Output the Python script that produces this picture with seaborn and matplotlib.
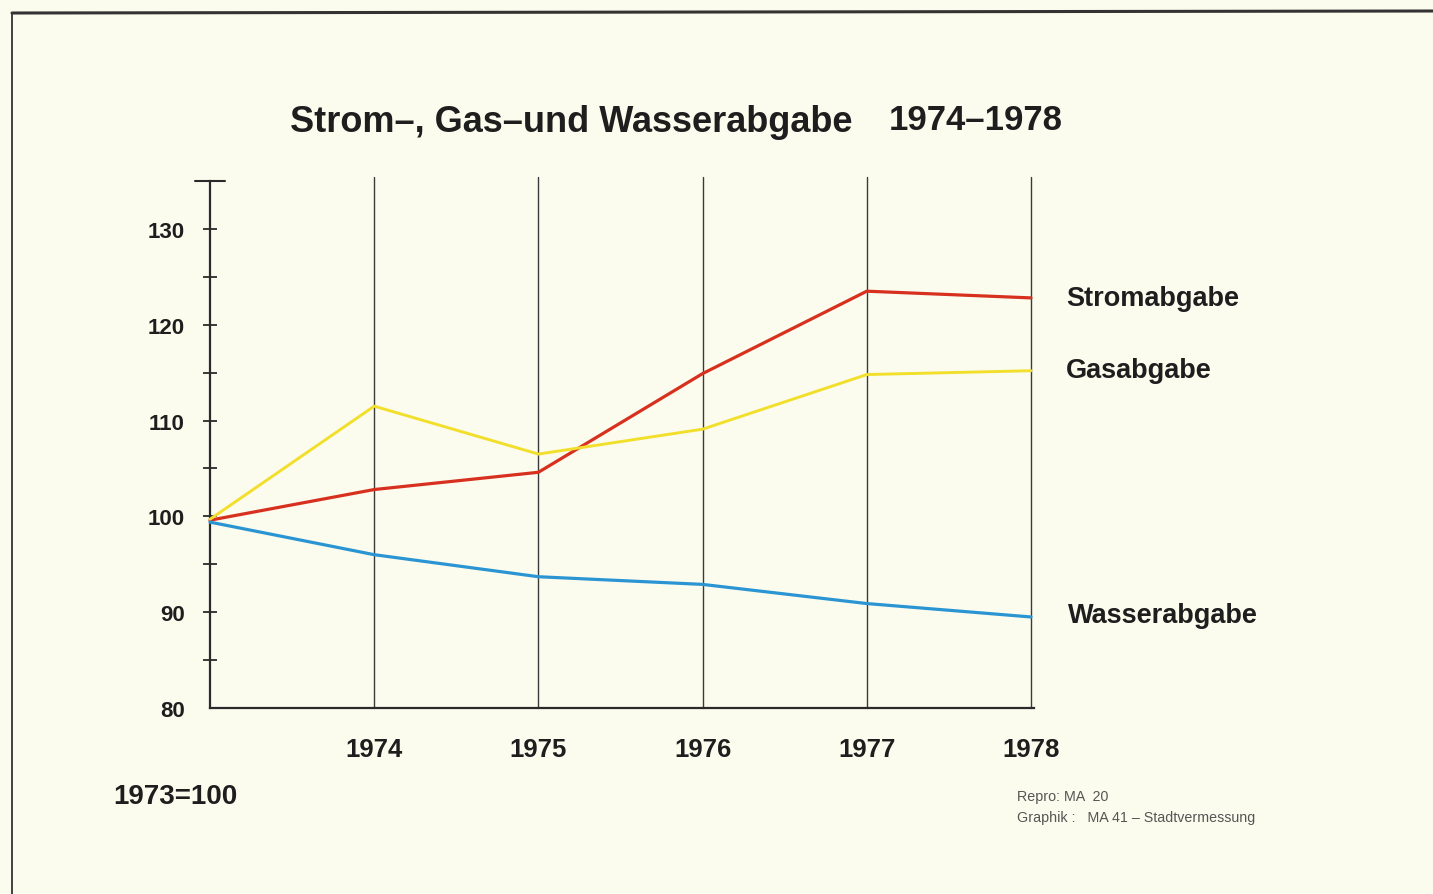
import matplotlib
matplotlib.use("Agg")
import matplotlib.pyplot as plt
from matplotlib.lines import Line2D
import seaborn as sns
import pandas as pd
import numpy as np

# ---- data ----
years = [1973, 1974, 1975, 1976, 1977, 1978]
strom = [99.6, 102.8, 104.6, 114.9, 123.5, 122.8]
gas = [99.7, 111.5, 106.5, 109.1, 114.8, 115.2]
wasser = [99.4, 96.0, 93.7, 92.9, 90.9, 89.5]
series_names = ["Stromabgabe", "Gasabgabe", "Wasserabgabe"]
year_ticks = [1974, 1975, 1976, 1977, 1978]
y_major = [80, 90, 100, 110, 120, 130]
y_minor = [85, 95, 105, 115, 125, 135]
title_main = "Strom\u2013, Gas\u2013und Wasserabgabe"
title_years = "1974\u20131978"
base_note = "1973=100"
credit_1 = "Repro: MA  20"
credit_2 = "Graphik :   MA 41 \u2013 Stadtvermessung"

df = pd.DataFrame({
    "Jahr": years * 3,
    "Index": strom + gas + wasser,
    "Reihe": [series_names[0]] * 6 + [series_names[1]] * 6 + [series_names[2]] * 6,
})

colors = {"Stromabgabe": "#d8301f", "Gasabgabe": "#f1df2c", "Wasserabgabe": "#2b95d3"}
bg = "#fcfcee"
ink = "#1e1e1e"

sns.set_theme(style="white")
plt.rcParams["font.family"] = ["Liberation Sans", "DejaVu Sans"]

W, H = 1433, 895
fig = plt.figure(figsize=(W / 100, H / 100), dpi=100, facecolor=bg)

x0, x1 = 210, 1031
y_bot, y_top = 709, 182
ax = fig.add_axes([x0 / W, 1 - y_bot / H, (x1 - x0) / W, (y_bot - y_top) / H])
ax.set_facecolor(bg)

sns.lineplot(data=df, x="Jahr", y="Index", hue="Reihe", palette=colors,
             legend=False, ax=ax, linewidth=2.3, clip_on=False, zorder=3)
for ln in ax.get_lines():
    if matplotlib.colors.to_hex(ln.get_color()) == colors["Gasabgabe"]:
        ln.set_linewidth(2.1)

ax.set_xlim(1973, 1978)
ax.set_ylim(80, 135)

# vertical year lines
for yr in year_ticks:
    ax.axvline(yr, ymin=0, ymax=1.008, color="#3a3a3a", lw=1.0, clip_on=False, zorder=2)

for s in ["top", "right"]:
    ax.spines[s].set_visible(False)
ax.spines["left"].set_color("#2a2a2a")
ax.spines["left"].set_linewidth(1.6)
ax.spines["bottom"].set_color("#2a2a2a")
ax.spines["bottom"].set_linewidth(1.6)
ax.spines["bottom"].set_bounds(1973, 1978.02)

ax.set_yticks(y_major)
ax.set_yticklabels([str(v) for v in y_major], fontsize=16, fontweight="bold", color=ink)
ax.set_yticks(y_minor, minor=True)
ax.tick_params(axis="y", which="both", direction="inout", length=10, width=1.3,
               color="#2a2a2a", pad=13, left=True)
ax.yaxis.get_major_ticks()[0].tick1line.set_visible(False)

ax.set_xticks(year_ticks)
ax.set_xticklabels([str(v) for v in year_ticks], fontsize=18.5, fontweight="bold", color=ink)
ax.tick_params(axis="x", length=0, pad=21)
ax.set_xlabel("")
ax.set_ylabel("")

# top cap of y axis
ax.plot([1972.91, 1973.09], [135, 135], color="#2a2a2a", lw=1.5, clip_on=False)

# titles
fig.text(290 / W, 1 - 123 / H, title_main, fontsize=26, fontweight="bold", color=ink,
         ha="left", va="center")
fig.text(889 / W, 1 - 121 / H, title_years, fontsize=25, fontweight="bold", color=ink,
         ha="left", va="center")

# right-hand series labels
label_pos = {"Stromabgabe": (1066, 299), "Gasabgabe": (1066, 371), "Wasserabgabe": (1068, 616)}
for name in series_names:
    lx, ly = label_pos[name]
    fig.text(lx / W, 1 - ly / H, name, fontsize=19.5, fontweight="bold", color=ink,
             ha="left", va="center")

fig.text(113 / W, 1 - 797 / H, base_note, fontsize=20, fontweight="bold", color=ink,
         ha="left", va="center")

fig.text(1017 / W, 1 - 797 / H, credit_1, fontsize=10.3, color="#555555", ha="left", va="center")
fig.text(1017 / W, 1 - 818 / H, credit_2, fontsize=10.3, color="#555555", ha="left", va="center")

# frame lines of the sheet
fig.add_artist(Line2D([12 / W, 1.0], [1 - 14 / H, 1 - 12 / H], color="#333333", lw=2.2,
                      transform=fig.transFigure))
fig.add_artist(Line2D([12 / W, 12 / W], [1 - 14 / H, 0], color="#333333", lw=1.3,
                      transform=fig.transFigure))

fig.savefig("out.png", dpi=100, facecolor=bg)
